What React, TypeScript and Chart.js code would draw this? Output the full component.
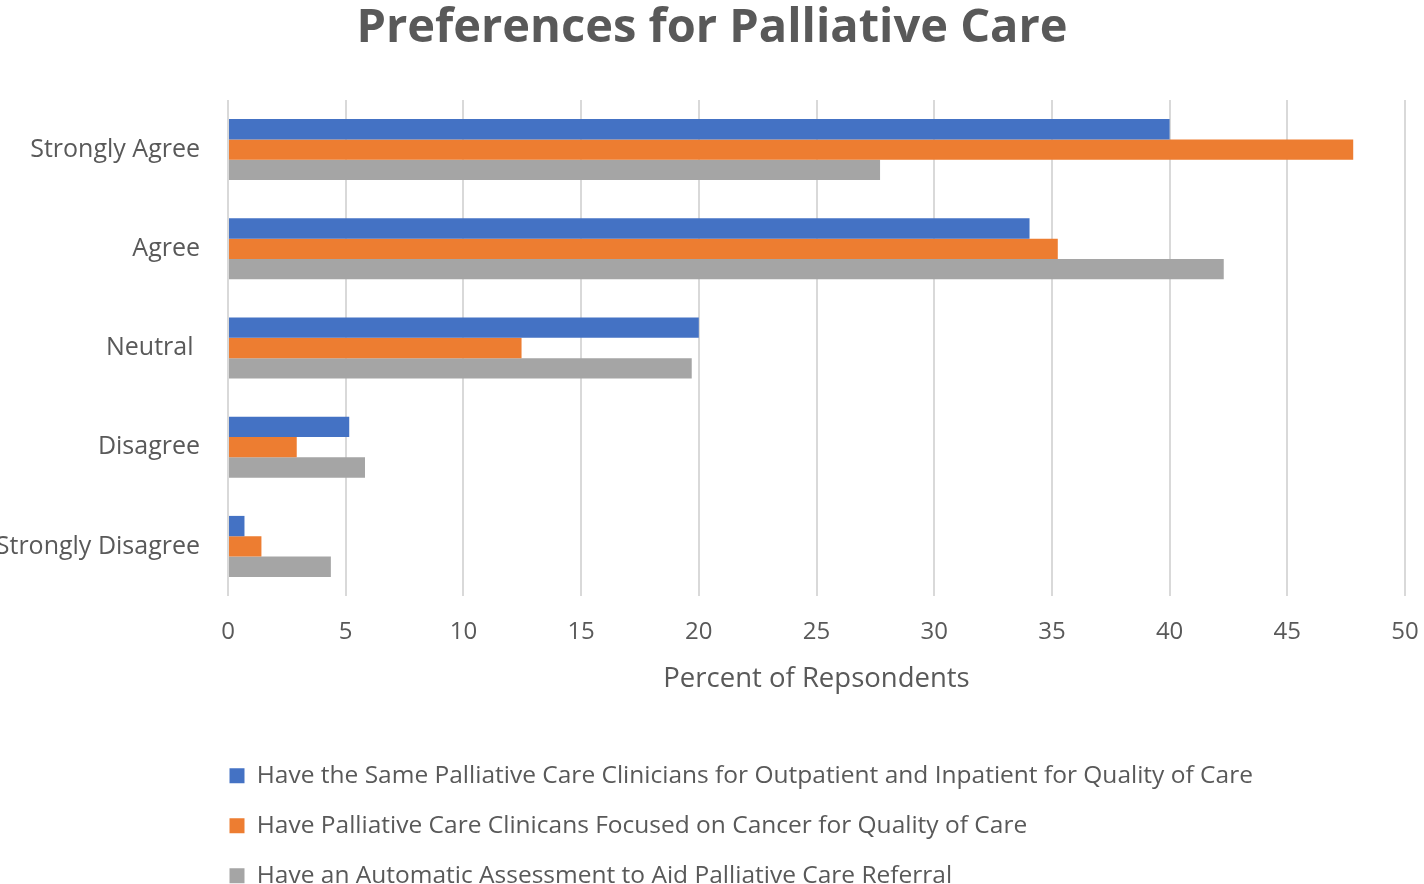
import React, { useEffect, useRef } from "react";
import { Chart, registerables } from "chart.js";

Chart.register(...registerables);

const categories = ["Strongly Agree", "Agree", "Neutral ", "Disagree", "Strongly Disagree"];
const seriesLabels = [
  "Have the Same Palliative Care Clinicians for Outpatient and Inpatient for Quality of Care",
  "Have Palliative Care Clinicans Focused on Cancer for Quality of Care",
  "Have an Automatic Assessment to Aid Palliative Care Referral",
];
const sameClinicians = [40.0, 34.05, 20.0, 5.15, 0.7];
const cancerFocused = [47.8, 35.25, 12.47, 2.92, 1.42];
const automaticAssessment = [27.7, 42.3, 19.7, 5.82, 4.37];
const seriesColors = ["#4472C4", "#ED7D31", "#A5A5A5"];
const xTitle = "Percent of Repsondents";
const chartTitle = "Preferences for Palliative Care";

export default function App() {
  const ref = useRef<HTMLCanvasElement>(null);
  useEffect(() => {
    document.body.style.margin = "0";
    if (!ref.current) return;
    Chart.defaults.font.family = "'Open Sans', sans-serif";
    const text = "#595959";
    const nudge = {
      id: "legendNudge",
      afterUpdate(chart: any) {
        const l = chart.legend;
        if (l) {
          l.left -= 24;
          l.right -= 24;
          l.top += 14;
          l.bottom += 14;
        }
      },
    };
    const values = [sameClinicians, cancerFocused, automaticAssessment];
    const chart = new Chart(ref.current, {
      type: "bar",
      data: {
        labels: categories,
        datasets: values.map((v, i) => ({
          label: seriesLabels[i],
          data: v,
          backgroundColor: seriesColors[i],
          borderWidth: 0,
          categoryPercentage: 0.615,
          barPercentage: 1,
        })),
      },
      options: {
        indexAxis: "y",
        responsive: false,
        animation: false,
        layout: { padding: { left: 0, right: 0, top: 0, bottom: 0 } },
        scales: {
          x: {
            min: 0,
            max: 50,
            ticks: { stepSize: 5, color: text, font: { size: 24 }, padding: 21.6 },
            grid: { color: "#d9d9d9", lineWidth: 2, drawTicks: false },
            border: { display: false },
            title: {
              display: true,
              text: xTitle,
              color: text,
              font: { size: 27.5 },
              padding: { top: 4, bottom: 28 },
            },
            afterFit(axis: any) {
              axis.height = 128;
              axis.paddingLeft = 0;
              axis.paddingRight = 19;
            },
          },
          y: {
            ticks: { color: text, font: { size: 25 }, padding: 28 },
            grid: { display: false, drawTicks: false },
            border: { display: false },
            afterFit(axis: any) {
              axis.width = 228;
            },
          },
        },
        plugins: {
          title: {
            display: true,
            text: chartTitle,
            color: text,
            font: { size: 47, weight: "bold" },
            padding: { top: 0, bottom: 43.6 },
          },
          legend: {
            position: "bottom",
            align: "start",
            fullSize: false,
            labels: {
              color: text,
              font: { size: 24.5 },
              boxWidth: 15,
              boxHeight: 15,
              padding: 25.5,
            },
          },
          tooltip: { enabled: false },
        },
      },
      plugins: [nudge],
    });
    return () => chart.destroy();
  }, []);
  return (
    <div style={{ position: "fixed", left: 0, top: 0, width: 1424, height: 884 }}>
      <canvas ref={ref} width={1424} height={884} style={{ display: "block" }} />
    </div>
  );
}
